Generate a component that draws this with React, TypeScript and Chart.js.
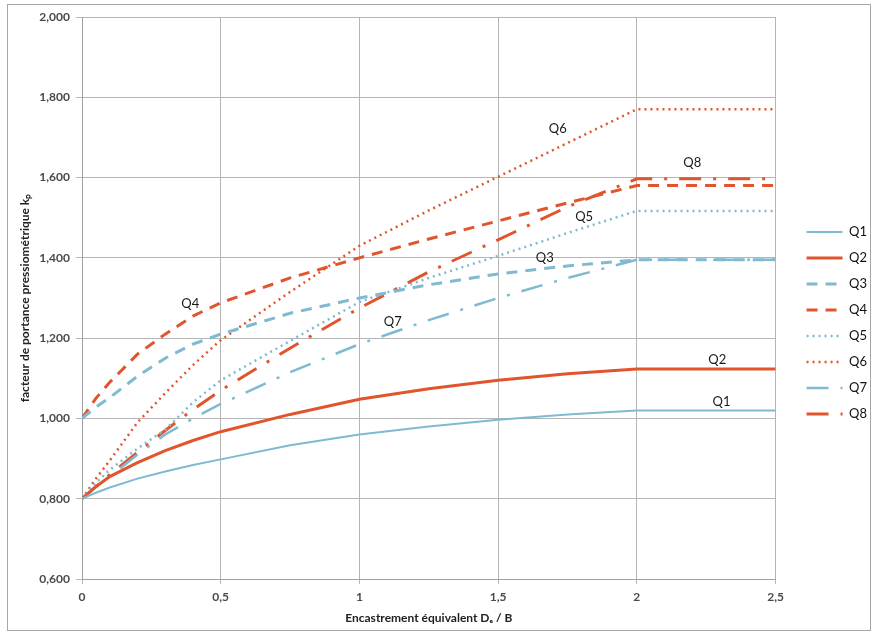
import React, { useEffect, useRef } from 'react';
import { Chart, registerables } from 'chart.js';

Chart.register(...registerables);

// De / B sample positions shared by all curves
const embedment = [0, 0.05, 0.1, 0.2, 0.3, 0.4, 0.5, 0.75, 1, 1.25, 1.5, 1.75, 2, 2.5];

const q1 = [0.8, 0.815, 0.828, 0.85, 0.868, 0.884, 0.898, 0.933, 0.96, 0.98, 0.997, 1.01, 1.02, 1.02];
const q2 = [0.8, 0.83, 0.855, 0.89, 0.92, 0.945, 0.967, 1.01, 1.048, 1.074, 1.095, 1.111, 1.123, 1.123];
const q3 = [1.0, 1.028, 1.052, 1.105, 1.15, 1.185, 1.21, 1.262, 1.3, 1.333, 1.36, 1.38, 1.395, 1.395];
const q4 = [1.0, 1.05, 1.09, 1.16, 1.21, 1.255, 1.288, 1.35, 1.4, 1.447, 1.492, 1.537, 1.58, 1.58];
const q5 = [0.8, 0.84, 0.872, 0.925, 0.972, 1.04, 1.095, 1.193, 1.29, 1.35, 1.405, 1.462, 1.517, 1.517];
const q6 = [0.8, 0.85, 0.895, 0.99, 1.063, 1.133, 1.195, 1.315, 1.43, 1.518, 1.602, 1.686, 1.77, 1.77];
const q7 = [0.8, 0.83, 0.855, 0.91, 0.96, 1.0, 1.036, 1.115, 1.185, 1.245, 1.3, 1.35, 1.395, 1.395];
const q8 = [0.8, 0.83, 0.86, 0.915, 0.97, 1.022, 1.07, 1.175, 1.275, 1.365, 1.445, 1.527, 1.597, 1.597];

const seriesNames = ['Q1', 'Q2', 'Q3', 'Q4', 'Q5', 'Q6', 'Q7', 'Q8'];
const seriesValues = [q1, q2, q3, q4, q5, q6, q7, q8];

// names written next to the curves (data coordinates)
const curveLabels = [
  { text: 'Q6', x: 1.715, y: 1.722 },
  { text: 'Q8', x: 2.2, y: 1.636 },
  { text: 'Q5', x: 1.81, y: 1.502 },
  { text: 'Q3', x: 1.668, y: 1.4 },
  { text: 'Q4', x: 0.39, y: 1.285 },
  { text: 'Q7', x: 1.12, y: 1.24 },
  { text: 'Q2', x: 2.29, y: 1.146 },
  { text: 'Q1', x: 2.305, y: 1.041 },
];

const BLUE = '#7fbad1';
const ORANGE = '#e0552c';

const styles = [
  { color: BLUE, width: 2, dash: [] },
  { color: ORANGE, width: 3, dash: [] },
  { color: BLUE, width: 3, dash: [11, 8] },
  { color: ORANGE, width: 3, dash: [11, 8] },
  { color: BLUE, width: 2.5, dash: [2, 4] },
  { color: ORANGE, width: 2.5, dash: [2, 4] },
  { color: BLUE, width: 2.5, dash: [22, 12, 3, 12] },
  { color: ORANGE, width: 3, dash: [22, 12, 3, 12] },
];

const curveLabelPlugin = {
  id: 'curveLabels',
  afterDatasetsDraw(chart: any) {
    const { ctx, scales } = chart;
    ctx.save();
    ctx.font = '13px Lato';
    ctx.fillStyle = '#1a1a1a';
    ctx.textAlign = 'center';
    ctx.textBaseline = 'middle';
    curveLabels.forEach((l) => {
      ctx.fillText(l.text, scales.x.getPixelForValue(l.x), scales.y.getPixelForValue(l.y));
    });
    ctx.restore();
  },
};

function KpChart() {
  const canvasRef = useRef<HTMLCanvasElement>(null);

  useEffect(() => {
    const ctx = canvasRef.current!.getContext('2d')!;
    const chart = new Chart(ctx, {
      type: 'line',
      data: {
        datasets: seriesNames.map((name, i) => ({
          label: name,
          data: embedment.map((x, j) => ({ x, y: seriesValues[i][j] })),
          borderColor: styles[i].color,
          backgroundColor: styles[i].color,
          borderWidth: styles[i].width,
          borderDash: styles[i].dash,
          pointRadius: 0,
          tension: 0,
          fill: false,
        })),
      },
      options: {
        animation: false,
        responsive: true,
        maintainAspectRatio: false,
        layout: { padding: { left: 10, right: 0, top: 17, bottom: 8 } },
        plugins: {
          tooltip: { enabled: false },
          legend: {
            position: 'right',
            labels: {
              usePointStyle: true,
              pointStyle: 'line',
              pointStyleWidth: 36,
              color: '#111',
              padding: 13,
              font: { family: 'Lato', size: 13 },
              // line samples keep each series' dash pattern
              generateLabels: () =>
                seriesNames.map((name, i) => ({
                  text: name,
                  fillStyle: styles[i].color,
                  strokeStyle: styles[i].color,
                  lineWidth: styles[i].width,
                  lineDash: styles[i].dash,
                  lineCap: 'butt',
                  pointStyle: 'line',
                  fontColor: '#111',
                  hidden: false,
                  datasetIndex: i,
                })),
            },
          },
        },
        scales: {
          x: {
            type: 'linear',
            min: 0,
            max: 2.5,
            afterFit: (s: any) => { s.height = 50; },
            ticks: {
              stepSize: 0.5,
              padding: 6,
              color: '#4a4a4a',
              font: { family: 'Lato', size: 12, weight: 'bold' },
              callback: (v: any) => String(v).replace('.', ','),
            },
            grid: { color: '#b5b5b5', tickLength: 5 },
            border: { color: '#a0a0a0' },
            title: {
              display: true,
              text: 'Encastrement équivalent Dₑ / B',
              color: '#222',
              font: { family: 'Lato', size: 12, weight: 'bold' },
              padding: { top: 4, bottom: 4 },
            },
          },
          y: {
            min: 0.6,
            max: 2.0,
            afterFit: (s: any) => { s.width = 72; },
            ticks: {
              stepSize: 0.2,
              padding: 6,
              color: '#4a4a4a',
              font: { family: 'Lato', size: 12, weight: 'bold' },
              callback: (v: any) => Number(v).toFixed(3).replace('.', ','),
            },
            grid: { color: '#b5b5b5', tickLength: 6 },
            border: { color: '#a0a0a0' },
            title: {
              display: true,
              text: 'facteur de portance pressiométrique kₚ',
              color: '#222',
              font: { family: 'Lato', size: 12, weight: 'bold' },
              padding: { top: 8, bottom: 4 },
            },
          },
          // empty strip between the plot and the legend
          gap: {
            type: 'linear',
            position: 'right',
            min: 0.6,
            max: 2.0,
            afterFit: (s: any) => { s.width = 18; },
            ticks: { display: false },
            grid: { display: false },
            border: { display: false },
          },
        },
      },
      plugins: [curveLabelPlugin],
    });

    return () => chart.destroy();
  }, []);

  return (
    <div style={{ position: 'absolute', left: 0, top: 0, width: 877, height: 637, background: '#fff' }}>
      <canvas ref={canvasRef}></canvas>
      <div
        style={{
          position: 'absolute',
          left: 7,
          top: 4,
          width: 864,
          height: 627,
          border: '1px solid #a6a6a6',
          boxSizing: 'border-box',
          pointerEvents: 'none',
        }}
      />
    </div>
  );
}

export default function App() {
  return <KpChart />;
}
